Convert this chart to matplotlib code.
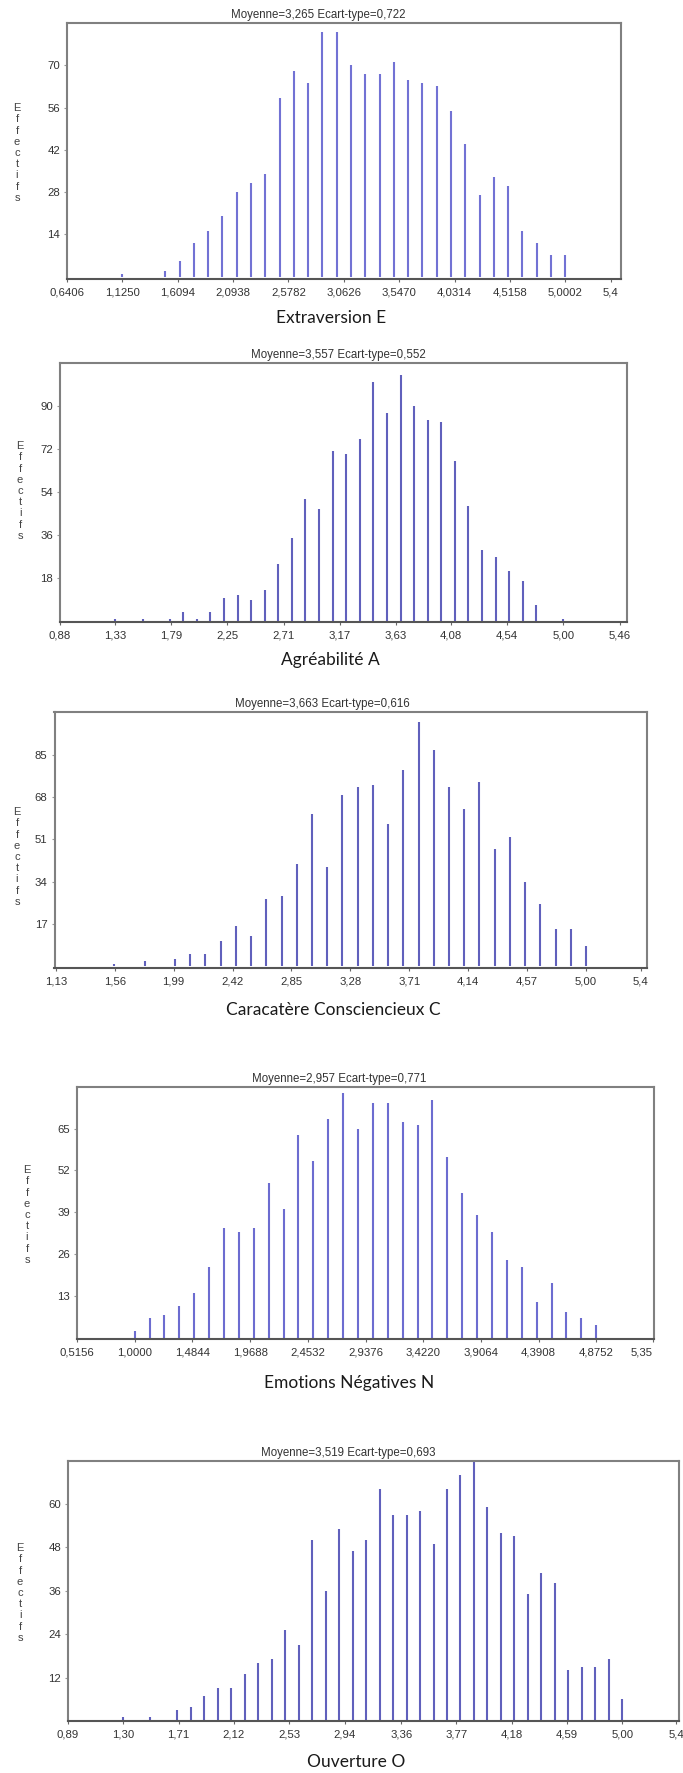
import matplotlib
matplotlib.use('Agg')
import matplotlib.pyplot as plt

W, H = 683, 1773

# --- Extraversion E
ext_x = [1.125, 1.5, 1.625, 1.75, 1.875, 2.0, 2.125, 2.25, 2.375, 2.5, 2.625, 2.75, 2.875, 3.0,
         3.125, 3.25, 3.375, 3.5, 3.625, 3.75, 3.875, 4.0, 4.125, 4.25, 4.375, 4.5, 4.625, 4.75,
         4.875, 5.0]
ext_n = [1, 2, 5, 11, 15, 20, 28, 31, 34, 59, 68, 64, 81, 81, 70, 67, 67, 71, 65, 64, 63, 55, 44,
         27, 33, 30, 15, 11, 7, 7]
ext_ticks = ["0,6406", "1,1250", "1,6094", "2,0938", "2,5782", "3,0626", "3,5470", "4,0314",
             "4,5158", "5,0002", "5,4"]
ext_yticks = [14, 28, 42, 56, 70]

# --- Agreabilite A
agr_x = [1.333, 1.556, 1.778, 1.889, 2.0, 2.111, 2.222, 2.333, 2.444, 2.556, 2.667, 2.778, 2.889,
         3.0, 3.111, 3.222, 3.333, 3.444, 3.556, 3.667, 3.778, 3.889, 4.0, 4.111, 4.222, 4.333,
         4.444, 4.556, 4.667, 4.778, 5.0]
agr_n = [1, 1, 1, 4, 1, 4, 10, 11, 9, 13, 24, 35, 51, 47, 71, 70, 76, 100, 87, 103, 90, 84, 83, 67,
         48, 30, 27, 21, 17, 7, 1]
agr_ticks = ["0,88", "1,33", "1,79", "2,25", "2,71", "3,17", "3,63", "4,08", "4,54", "5,00", "5,46"]
agr_yticks = [18, 36, 54, 72, 90]

# --- Conscienciosite C
con_x = [1.556, 1.778, 2.0, 2.111, 2.222, 2.333, 2.444, 2.556, 2.667, 2.778, 2.889, 3.0, 3.111,
         3.222, 3.333, 3.444, 3.556, 3.667, 3.778, 3.889, 4.0, 4.111, 4.222, 4.333, 4.444, 4.556,
         4.667, 4.778, 4.889, 5.0]
con_n = [1, 2, 3, 5, 5, 10, 16, 12, 27, 28, 41, 61, 40, 69, 72, 73, 57, 79, 98, 87, 72, 63, 74, 47,
         52, 34, 25, 15, 15, 8]
con_ticks = ["1,13", "1,56", "1,99", "2,42", "2,85", "3,28", "3,71", "4,14", "4,57", "5,00", "5,4"]
con_yticks = [17, 34, 51, 68, 85]

# --- Emotions negatives N
neg_x = [1.0, 1.125, 1.25, 1.375, 1.5, 1.625, 1.75, 1.875, 2.0, 2.125, 2.25, 2.375, 2.5, 2.625,
         2.75, 2.875, 3.0, 3.125, 3.25, 3.375, 3.5, 3.625, 3.75, 3.875, 4.0, 4.125, 4.25, 4.375,
         4.5, 4.625, 4.75, 4.875]
neg_n = [2, 6, 7, 10, 14, 22, 34, 33, 34, 48, 40, 63, 55, 68, 76, 65, 73, 73, 67, 66, 74, 56, 45,
         38, 33, 24, 22, 11, 17, 8, 6, 4]
neg_ticks = ["0,5156", "1,0000", "1,4844", "1,9688", "2,4532", "2,9376", "3,4220", "3,9064",
             "4,3908", "4,8752", "5,35"]
neg_yticks = [13, 26, 39, 52, 65]

# --- Ouverture O
ouv_x = [1.3, 1.5, 1.7, 1.8, 1.9, 2.0, 2.1, 2.2, 2.3, 2.4, 2.5, 2.6, 2.7, 2.8, 2.9, 3.0, 3.1, 3.2,
         3.3, 3.4, 3.5, 3.6, 3.7, 3.8, 3.9, 4.0, 4.1, 4.2, 4.3, 4.4, 4.5, 4.6, 4.7, 4.8, 4.9, 5.0]
ouv_n = [1, 1, 3, 4, 7, 9, 9, 13, 16, 17, 25, 21, 50, 36, 53, 47, 50, 64, 57, 57, 58, 49, 64, 68,
         72, 59, 52, 51, 35, 41, 38, 14, 15, 15, 17, 6]
ouv_ticks = ["0,89", "1,30", "1,71", "2,12", "2,53", "2,94", "3,36", "3,77", "4,18", "4,59",
             "5,00", "5,4"]
ouv_yticks = [12, 24, 36, 48, 60]

titres = ["Moyenne=3,265 Ecart-type=0,722", "Moyenne=3,557 Ecart-type=0,552",
          "Moyenne=3,663 Ecart-type=0,616", "Moyenne=2,957 Ecart-type=0,771",
          "Moyenne=3,519 Ecart-type=0,693"]
noms = ["Extraversion E", "Agréabilité A", "Caracatère Consciencieux C", "Emotions Négatives N",
        "Ouverture O"]

sans = ['Liberation Sans', 'DejaVu Sans']
calib = ['Lato', 'DejaVu Sans']

fig = plt.figure(figsize=(W / 100, H / 100), dpi=100)


def px_axes(l, r, t, b):
    return fig.add_axes([l / W, 1 - b / H, (r - l) / W, (b - t) / H])


def panneau(box, x, n, ticks, yticks, xlim, ylim, couleur, titre, nom, pos_t, pos_x, pos_y,
            dernier_droite=False):
    ax = px_axes(*box)
    ax.vlines(x, 0, n, colors=couleur, linewidth=1.5)
    ax.set_xlim(*xlim)
    ax.set_ylim(*ylim)
    pos = [float(s.replace(',', '.')) for s in ticks]
    ax.set_xticks(pos)
    ax.set_xticklabels(ticks, fontfamily=sans, fontsize=8.2, color='#333333')
    if dernier_droite:
        ax.get_xticklabels()[-1].set_ha('right')
    ax.set_yticks(yticks)
    ax.set_yticklabels([str(v) for v in yticks], fontfamily=sans, fontsize=8.2, color='#333333')
    ax.tick_params(axis='x', length=2, width=0.8, color='#666666', pad=4)
    ax.tick_params(axis='y', length=2, width=0.8, color='#999999', pad=3)
    for s in ax.spines.values():
        s.set_color('#808080')
        s.set_linewidth(1.5)
    ax.spines['bottom'].set_color('#555555')
    fig.text(pos_t[0] / W, 1 - pos_t[1] / H, titre, ha='center', va='center',
             fontfamily=sans, fontsize=8.3, color='#333333')
    fig.text(pos_x[0] / W, 1 - pos_x[1] / H, nom, ha='center', va='center',
             fontfamily=calib, fontsize=12.5, color='#1a1a1a')
    fig.text(pos_y[0] / W, 1 - pos_y[1] / H, "\n".join("Effectifs"), ha='center', va='center',
             fontfamily=sans, fontsize=8, color='#444444', linespacing=1.15)
    return ax


panneau((67, 621, 23, 279), ext_x, ext_n, ext_ticks, ext_yticks, (0.6406, 5.488), (-0.8, 84),
        '#7272d4', titres[0], noms[0], (318, 15), (331, 318), (17, 153))
panneau((60, 627, 363, 622), agr_x, agr_n, agr_ticks, agr_yticks, (0.88, 5.52), (-0.2, 107.8),
        '#6060bc', titres[1], noms[1], (338, 355), (330, 660), (20, 491))
panneau((54.5, 647, 712, 968), con_x, con_n, con_ticks, con_yticks, (1.12, 5.445), (-0.8, 102.2),
        '#6060bc', titres[2], noms[2], (322, 704), (333, 1010), (17, 857))
panneau((77, 654, 1087, 1339), neg_x, neg_n, neg_ticks, neg_yticks, (0.5156, 5.3596), (-0.4, 77.9),
        '#6c6cd0', titres[3], noms[3], (339, 1079), (349, 1383), (27, 1215), dernier_droite=True)
panneau((68, 679, 1461, 1721), ouv_x, ouv_n, ouv_ticks, ouv_yticks, (0.89, 5.42), (0, 71.8),
        '#6060bc', titres[4], noms[4], (348, 1453), (356, 1762), (20, 1593))

fig.savefig('out.png', dpi=100, facecolor='white')
